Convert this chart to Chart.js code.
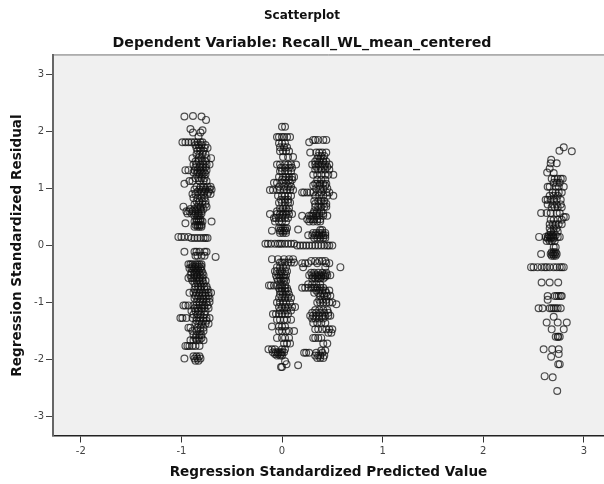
<!DOCTYPE html>
<html>
<head>
<meta charset="utf-8">
<title>Scatterplot</title>
<script src="https://cdn.jsdelivr.net/npm/chart.js@4/dist/chart.umd.min.js"></script>
<style>
html, body { margin: 0; padding: 0; background: #fff; overflow: hidden; }
#wrap { width: 604px; height: 484px; }
</style>
</head>
<body>
<div id="wrap"><canvas id="chart"></canvas></div>
<script>
const chartTitle = 'Scatterplot';
const chartSubtitle = 'Dependent Variable: Recall_WL_mean_centered';
const xLabel = 'Regression Standardized Predicted Value';
const yLabel = 'Regression Standardized Residual';
const xTicks = [-2, -1, 0, 1, 2, 3];
const yTicks = [-3, -2, -1, 0, 1, 2, 3];

// each row: residual, then the predicted values read at that residual
const groupA = [
    [2.26, -0.97, -0.80], [2.27, -0.885], [2.2, -0.755], [2.04, -0.91], [2.02, -0.79],
    [1.98, -0.885, -0.81], [1.91, -0.83],
    [1.81, -0.99, -0.96, -0.93, -0.90, -0.87, -0.84, -0.81, -0.79],
    [1.76, -0.86, -0.83, -0.80, -0.76],
    [1.71, -0.85, -0.82, -0.77, -0.74],
    [1.66, -0.84, -0.81, -0.78],
    [1.6, -0.85, -0.82, -0.79, -0.76],
    [1.53, -0.89, -0.83, -0.80, -0.75, -0.705],
    [1.47, -0.86, -0.83, -0.79, -0.76],
    [1.42, -0.88, -0.85, -0.81, -0.78, -0.75, -0.72],
    [1.37, -0.86, -0.82, -0.79, -0.76],
    [1.32, -0.96, -0.93, -0.87, -0.84, -0.81, -0.78, -0.75],
    [1.28, -0.88, -0.84, -0.80, -0.77],
    [1.25, -0.85, -0.82, -0.79, -0.76],
    [1.18, -0.86, -0.83, -0.80, -0.77],
    [1.13, -0.92, -0.89, -0.82, -0.78, -0.75],
    [1.08, -0.97],
    [1.03, -0.85, -0.81, -0.78, -0.74, -0.71],
    [0.98, -0.87, -0.82, -0.79, -0.76, -0.72, -0.70],
    [0.94, -0.84, -0.80, -0.77, -0.73],
    [0.9, -0.89, -0.86, -0.81, -0.78, -0.74, -0.71],
    [0.83, -0.88, -0.84, -0.80, -0.77],
    [0.77, -0.85, -0.82, -0.79, -0.76],
    [0.72, -0.87, -0.83, -0.79, -0.76],
    [0.68, -0.98, -0.84, -0.81, -0.75],
    [0.64, -0.91, -0.87, -0.84, -0.81, -0.78],
    [0.6, -0.95, -0.92, -0.89, -0.86, -0.83, -0.80],
    [0.56, -0.94, -0.90, -0.86, -0.83, -0.80],
    [0.52, -0.87, -0.84, -0.82],
    [0.46, -0.85, -0.83, -0.81],
    [0.42, -0.87, -0.85, -0.83, -0.81, -0.79, -0.70],
    [0.39, -0.96],
    [0.36, -0.86, -0.84, -0.82, -0.80],
    [0.33, -0.87, -0.84, -0.82, -0.80],
    [0.15, -1.03, -1.0, -0.97, -0.93],
    [0.13, -0.90, -0.87, -0.84, -0.81, -0.78, -0.76, -0.74],
    [-0.11, -0.97, -0.87, -0.85, -0.82, -0.77, -0.75],
    [-0.18, -0.86, -0.84, -0.80, -0.77],
    [-0.2, -0.66],
    [-0.33, -0.93, -0.91, -0.89, -0.86, -0.84, -0.82, -0.80],
    [-0.37, -0.89, -0.86, -0.83, -0.80],
    [-0.4, -0.92, -0.90, -0.87, -0.84, -0.81],
    [-0.44, -0.88, -0.85, -0.83, -0.80],
    [-0.48, -0.90, -0.87, -0.85, -0.82, -0.79],
    [-0.52, -0.91, -0.87, -0.84, -0.81, -0.78],
    [-0.57, -0.93, -0.90, -0.88, -0.85, -0.82, -0.79],
    [-0.62, -0.89, -0.85, -0.82, -0.79, -0.76],
    [-0.66, -0.87, -0.84, -0.81, -0.78],
    [-0.72, -0.86, -0.83, -0.80, -0.77, -0.75],
    [-0.77, -0.87, -0.84, -0.81, -0.77, -0.74],
    [-0.83, -0.92, -0.88, -0.85, -0.82, -0.79, -0.76, -0.73, -0.705],
    [-0.88, -0.86, -0.83, -0.79, -0.76, -0.73],
    [-0.93, -0.87, -0.84, -0.81, -0.78, -0.75, -0.72],
    [-0.99, -0.85, -0.82, -0.79, -0.75, -0.72],
    [-1.05, -0.98, -0.96, -0.93, -0.88, -0.85, -0.82, -0.79, -0.77, -0.74],
    [-1.1, -0.87, -0.84, -0.80, -0.77, -0.73],
    [-1.15, -0.90, -0.86, -0.83, -0.80, -0.76],
    [-1.21, -0.88, -0.84, -0.81, -0.77],
    [-1.27, -1.01, -0.99, -0.95, -0.89, -0.85, -0.81, -0.78, -0.75, -0.72],
    [-1.32, -0.85, -0.82, -0.78, -0.75],
    [-1.37, -0.86, -0.83, -0.80, -0.76, -0.73],
    [-1.44, -0.93, -0.91, -0.84, -0.81, -0.78],
    [-1.5, -0.89, -0.85, -0.81, -0.78],
    [-1.57, -0.88, -0.85, -0.82, -0.80],
    [-1.62, -0.86, -0.83, -0.80],
    [-1.66, -0.91, -0.88, -0.85, -0.82, -0.78],
    [-1.76, -0.96, -0.94, -0.92, -0.89, -0.86, -0.82],
    [-1.94, -0.88, -0.85, -0.82],
    [-1.98, -0.97, -0.87, -0.84, -0.81],
    [-2.02, -0.86, -0.83]
];

const groupB = [
    [2.08, 0.0, 0.03],
    [1.9, -0.05, -0.03, 0.0, 0.02, 0.05, 0.08],
    [1.79, -0.03, 0.0, 0.03],
    [1.72, -0.02, 0.02, 0.05],
    [1.65, -0.02, 0.01, 0.04, 0.07],
    [1.55, 0.01, 0.06, 0.11],
    [1.42, -0.05, -0.02, 0.03, 0.06, 0.09, 0.14],
    [1.36, -0.01, 0.03, 0.07, 0.10],
    [1.3, -0.02, 0.0, 0.03, 0.06, 0.09],
    [1.2, -0.03, 0.01, 0.04, 0.07, 0.1, 0.12],
    [1.15, 0.0, 0.03, 0.07, 0.10],
    [1.1, -0.08, -0.05, 0.0, 0.04, 0.08],
    [1.03, -0.03, 0.02, 0.06, 0.09],
    [0.97, -0.12, -0.09, -0.05, -0.02, 0.02, 0.05, 0.08, 0.11],
    [0.87, -0.04, 0.0, 0.03, 0.06, 0.09],
    [0.8, -0.01, 0.03, 0.06],
    [0.75, -0.03, 0.0, 0.03, 0.06, 0.08],
    [0.65, -0.02, 0.01, 0.04, 0.07],
    [0.6, -0.05, -0.01, 0.03, 0.06],
    [0.55, -0.12, -0.05, -0.02, 0.01, 0.04, 0.07, 0.1],
    [0.48, -0.08, -0.06, -0.03, 0.0, 0.03, 0.06],
    [0.42, -0.07, -0.03, 0.0, 0.04],
    [0.3, -0.03, -0.01, 0.01, 0.03, 0.05],
    [0.26, -0.10, -0.02, 0.0, 0.02, 0.04],
    [0.22, -0.02, 0.01, 0.04],
    [0.28, 0.16],
    [0.03, -0.165, -0.14, -0.11, -0.07, -0.04, -0.02, 0.0, 0.03, 0.06, 0.09, 0.12],
    [0.0, 0.15, 0.18, 0.21, 0.24, 0.27, 0.3, 0.33, 0.36, 0.39, 0.42, 0.45, 0.47, 0.5],
    [-0.24, -0.10, -0.04, 0.02, 0.07, 0.11],
    [-0.3, -0.02, 0.0, 0.03, 0.06, 0.09, 0.12],
    [-0.38, -0.05, -0.02, 0.01, 0.04],
    [-0.45, -0.07, -0.05, -0.02, 0.0, 0.03, 0.05],
    [-0.52, -0.06, -0.03, -0.01, 0.02, 0.04],
    [-0.57, -0.05, -0.02, 0.01, 0.03],
    [-0.62, -0.04, -0.01, 0.02, 0.04],
    [-0.7, -0.13, -0.11, -0.08, -0.05, -0.02, 0.0, 0.03],
    [-0.75, -0.03, 0.0, 0.03, 0.05],
    [-0.8, -0.02, 0.0, 0.03, 0.06],
    [-0.86, -0.02, 0.01, 0.04, 0.07],
    [-0.92, -0.03, 0.0, 0.03, 0.06, 0.09],
    [-1.0, -0.05, -0.02, 0.01, 0.04, 0.08],
    [-1.08, -0.03, 0.0, 0.03, 0.06, 0.1, 0.13],
    [-1.14, -0.02, 0.02, 0.05, 0.09],
    [-1.2, -0.09, -0.06, -0.03, 0.0, 0.03, 0.06],
    [-1.3, -0.05, -0.02, 0.02, 0.05, 0.09],
    [-1.42, -0.10, -0.03, 0.0, 0.03],
    [-1.5, -0.03, 0.0, 0.04, 0.07, 0.12],
    [-1.62, -0.05, 0.0, 0.03, 0.07],
    [-1.72, 0.02, 0.05, 0.08],
    [-1.82, -0.135, -0.1, -0.07, 0.0, 0.03],
    [-1.87, -0.09, -0.06, -0.04, -0.02, 0.0, 0.02],
    [-1.9, -0.07, -0.04, -0.01],
    [-1.93, -0.05, -0.02, 0.0],
    [-2.03, 0.03],
    [-2.08, 0.045],
    [-2.13, 0.0, -0.01],
    [-2.1, 0.16]
];

const groupC = [
    [1.81, 0.27],
    [1.85, 0.31, 0.33, 0.36, 0.41, 0.44],
    [1.63, 0.28, 0.34, 0.37, 0.4, 0.44],
    [1.57, 0.36, 0.39, 0.42],
    [1.52, 0.35, 0.38, 0.41],
    [1.47, 0.33, 0.37, 0.41, 0.44],
    [1.42, 0.3, 0.33, 0.36, 0.4, 0.43, 0.47],
    [1.38, 0.34, 0.38, 0.42, 0.45],
    [1.33, 0.33, 0.36, 0.39, 0.43, 0.47],
    [1.24, 0.31, 0.35, 0.39, 0.43, 0.46, 0.51],
    [1.15, 0.35, 0.39, 0.43],
    [1.08, 0.33, 0.35, 0.38, 0.41, 0.44],
    [1.05, 0.31, 0.37, 0.43],
    [1.0, 0.34, 0.38, 0.41, 0.45],
    [0.93, 0.2, 0.22, 0.25, 0.28, 0.31, 0.36, 0.39, 0.44, 0.47],
    [0.87, 0.33, 0.37, 0.41, 0.45, 0.51],
    [0.78, 0.32, 0.36, 0.39, 0.42],
    [0.73, 0.33, 0.37, 0.41, 0.44],
    [0.68, 0.33, 0.36, 0.39, 0.42, 0.44],
    [0.6, 0.32, 0.35, 0.39],
    [0.56, 0.31, 0.34, 0.37, 0.41],
    [0.52, 0.2, 0.27, 0.29, 0.31, 0.34, 0.37, 0.41, 0.45],
    [0.46, 0.25, 0.28, 0.3, 0.32, 0.35, 0.38],
    [0.42, 0.27, 0.31, 0.35, 0.38],
    [0.27, 0.38, 0.4],
    [0.22, 0.31, 0.34, 0.37, 0.4, 0.43],
    [0.18, 0.26, 0.3, 0.33, 0.35, 0.37, 0.39, 0.41, 0.43],
    [0.13, 0.32, 0.35, 0.38, 0.41, 0.43],
    [-0.27, 0.29, 0.33, 0.37, 0.4, 0.43],
    [-0.31, 0.2, 0.23, 0.26, 0.35, 0.44, 0.47],
    [-0.38, 0.58, 0.43, 0.21],
    [-0.48, 0.29, 0.32, 0.36, 0.4, 0.44],
    [-0.52, 0.27, 0.3, 0.33, 0.35, 0.37, 0.39, 0.41, 0.43, 0.45, 0.48],
    [-0.55, 0.31, 0.35, 0.39, 0.43],
    [-0.58, 0.3, 0.33, 0.36, 0.38, 0.41],
    [-0.68, 0.26, 0.3, 0.34, 0.38],
    [-0.74, 0.2, 0.23, 0.26, 0.29, 0.31, 0.33, 0.35, 0.38, 0.41],
    [-0.79, 0.34, 0.37, 0.4, 0.43, 0.47],
    [-0.83, 0.32, 0.36, 0.4, 0.44],
    [-0.88, 0.38, 0.42, 0.45, 0.48],
    [-0.95, 0.37, 0.4, 0.44],
    [-1.0, 0.35, 0.38, 0.41, 0.44, 0.47, 0.5],
    [-1.03, 0.54],
    [-1.13, 0.33, 0.37, 0.41, 0.45],
    [-1.18, 0.3, 0.34, 0.38, 0.42, 0.46],
    [-1.23, 0.28, 0.31, 0.34, 0.37, 0.4, 0.43, 0.46, 0.48],
    [-1.28, 0.3, 0.33, 0.37, 0.41],
    [-1.36, 0.31, 0.35, 0.39, 0.43],
    [-1.47, 0.33, 0.36, 0.4, 0.44, 0.47, 0.5],
    [-1.53, 0.46, 0.49],
    [-1.62, 0.31, 0.33, 0.36, 0.39],
    [-1.72, 0.41, 0.45],
    [-1.84, 0.39, 0.43],
    [-1.88, 0.22, 0.24, 0.27, 0.34, 0.4],
    [-1.93, 0.33, 0.36, 0.38, 0.42],
    [-1.97, 0.35, 0.38, 0.41]
];

const groupD = [
    [1.66, 2.757], [1.72, 2.80], [1.65, 2.88],
    [1.5, 2.675], [1.44, 2.67, 2.73], [1.35, 2.66], [1.28, 2.635], [1.27, 2.70],
    [1.17, 2.68, 2.71, 2.74, 2.77, 2.79],
    [1.1, 2.70, 2.73, 2.76],
    [1.03, 2.64, 2.66, 2.72, 2.75, 2.8],
    [0.93, 2.69, 2.72, 2.75, 2.78],
    [0.87, 2.66, 2.70, 2.74],
    [0.8, 2.62, 2.64, 2.67, 2.7, 2.73, 2.77],
    [0.72, 2.64, 2.69, 2.73, 2.77],
    [0.67, 2.68, 2.71, 2.74, 2.78],
    [0.57, 2.575, 2.63, 2.67, 2.73, 2.76],
    [0.5, 2.80, 2.82],
    [0.45, 2.67, 2.70, 2.74, 2.78],
    [0.37, 2.66, 2.69, 2.72, 2.75, 2.78],
    [0.3, 2.66, 2.70, 2.73],
    [0.24, 2.67, 2.7, 2.74],
    [0.18, 2.65, 2.67, 2.69, 2.72],
    [0.15, 2.555, 2.62, 2.64, 2.66, 2.68, 2.7, 2.74, 2.76],
    [0.12, 2.64, 2.67, 2.70],
    [0.08, 2.63, 2.66, 2.68, 2.71],
    [-0.03, 2.7, 2.72],
    [-0.12, 2.68, 2.70, 2.72],
    [-0.15, 2.575, 2.67, 2.69, 2.71, 2.73],
    [-0.18, 2.68, 2.70, 2.72],
    [-0.38, 2.475, 2.5, 2.54, 2.58, 2.61, 2.63, 2.66, 2.7, 2.73, 2.76, 2.78, 2.8],
    [-0.65, 2.58, 2.66, 2.745],
    [-0.885, 2.64, 2.71, 2.73, 2.75, 2.77, 2.78],
    [-0.95, 2.64],
    [-1.1, 2.55, 2.59, 2.66, 2.68, 2.7, 2.72, 2.74, 2.77],
    [-1.25, 2.70],
    [-1.35, 2.63, 2.74, 2.83],
    [-1.47, 2.68, 2.80],
    [-1.6, 2.72, 2.74, 2.745, 2.76],
    [-1.82, 2.60, 2.685, 2.75],
    [-1.9, 2.75],
    [-1.95, 2.675],
    [-2.08, 2.745, 2.76],
    [-2.29, 2.61], [-2.31, 2.69], [-2.55, 2.735]
];

function rowsToPoints(rows) {
    const points = [];
    rows.forEach(function(row) {
        row.slice(1).forEach(function(x) {
            points.push({ x: x, y: row[0] });
        });
    });
    return points;
}

const points = [groupA, groupB, groupC, groupD].map(rowsToPoints).flat();

const titleFont = 'DejaVu Sans';

// grey plot background and the top edge of the frame
const plotBackground = {
    id: 'plotBackground',
    beforeDraw(chart) {
        const a = chart.chartArea;
        const ctx = chart.ctx;
        ctx.save();
        ctx.fillStyle = '#f0f0f0';
        ctx.fillRect(a.left, a.top, a.right - a.left, a.bottom - a.top);
        ctx.strokeStyle = '#6e6e6e';
        ctx.lineWidth = 1;
        ctx.beginPath();
        ctx.moveTo(a.left, a.top - 0.5);
        ctx.lineTo(a.right, a.top - 0.5);
        ctx.stroke();
        ctx.restore();
    }
};

new Chart(document.getElementById('chart').getContext('2d'), {
    type: 'scatter',
    data: {
        datasets: [{
            data: points,
            pointStyle: 'circle',
            pointRadius: 3.4,
            pointBorderWidth: 1.2,
            pointBackgroundColor: 'rgba(0,0,0,0)',
            pointBorderColor: 'rgba(15,15,15,0.72)'
        }]
    },
    plugins: [plotBackground],
    options: {
        responsive: true,
        maintainAspectRatio: false,
        animation: false,
        layout: { autoPadding: false, padding: { top: 8.5, right: 0, bottom: 0, left: 0 } },
        plugins: {
            legend: { display: false },
            tooltip: { enabled: false },
            title: {
                display: true,
                text: chartTitle,
                color: '#111',
                font: { family: titleFont, size: 12, weight: 'bold' },
                padding: { top: 0, bottom: 12 }
            },
            subtitle: {
                display: true,
                text: chartSubtitle,
                color: '#111',
                font: { family: titleFont, size: 14.2, weight: 'bold' },
                padding: { top: 0, bottom: 3.5 }
            }
        },
        scales: {
            x: {
                type: 'linear',
                min: -2.276,
                max: 3.2,
                afterBuildTicks(axis) { axis.ticks = xTicks.map(v => ({ value: v })); },
                afterFit(axis) {
                    axis.height = 48.5;
                    axis.paddingLeft = 0;
                    axis.paddingRight = 0;
                },
                grid: { drawOnChartArea: false, drawTicks: true, tickLength: 7, tickColor: '#333', tickWidth: 1 },
                border: { color: '#222', width: 1.5 },
                ticks: { color: '#444', font: { family: 'DejaVu Sans', size: 10 }, maxRotation: 0, padding: 3 },
                title: {
                    display: true,
                    text: xLabel,
                    color: '#111',
                    font: { family: titleFont, size: 13.6, weight: 'bold' },
                    padding: { top: 6, bottom: 3 }
                }
            },
            y: {
                type: 'linear',
                min: -3.33,
                max: 3.33,
                afterBuildTicks(axis) { axis.ticks = yTicks.map(v => ({ value: v })); },
                afterFit(axis) {
                    axis.width = 53;
                    axis.paddingTop = 0;
                    axis.paddingBottom = 0;
                },
                grid: { drawOnChartArea: false, drawTicks: true, tickLength: 7, tickColor: '#444', tickWidth: 1 },
                border: { color: '#666', width: 2 },
                ticks: { color: '#444', font: { family: 'DejaVu Sans', size: 10 }, padding: 2 },
                title: {
                    display: true,
                    text: yLabel,
                    color: '#111',
                    font: { family: titleFont, size: 13.6, weight: 'bold' },
                    padding: { top: 9, bottom: 0 }
                }
            }
        }
    }
});
</script>
</body>
</html>
